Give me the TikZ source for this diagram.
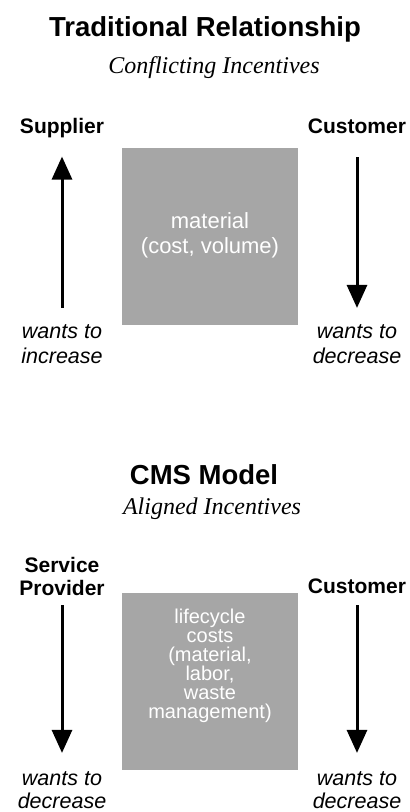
\documentclass[tikz,border=0pt]{standalone}
\usepackage{fontspec}
\setmainfont{Liberation Serif}
\setsansfont{Liberation Sans}
\usepackage{xcolor}
\usetikzlibrary{arrows.meta}
\definecolor{boxgray}{RGB}{166,166,166}

\begin{document}
\begin{tikzpicture}[x=1pt,y=-1pt,
	title/.style={font=\sffamily\bfseries\fontsize{27.5}{30}\selectfont,anchor=base,inner sep=0pt},
	subtitle/.style={font=\itshape\fontsize{24}{26}\selectfont,anchor=base,inner sep=0pt},
	party/.style={font=\sffamily\bfseries\fontsize{21}{23}\selectfont,align=center,anchor=base,inner sep=0pt},
	wants/.style={font=\sffamily\itshape\fontsize{21.5}{25}\selectfont,align=center,anchor=base,inner sep=0pt},
	costbox/.style={fill=boxgray,minimum width=176pt,minimum height=177pt,inner sep=0pt},
	costtext/.style={text=white,font=\sffamily\fontsize{22}{25}\selectfont,align=center,anchor=base,inner sep=0pt},
	push/.style={line width=3pt,-{Triangle[width=20pt,length=23pt]}}]
\useasboundingbox (0,0) rectangle (410,812);

% traditional relationship
\node[title] (tradTitle) at (205,36) {Traditional Relationship};
\node[subtitle] (tradSub) at (214,73) {Conflicting Incentives};
\node[party] (sup) at (62,133) {Supplier};
\node[party] (custA) at (357,133) {Customer};
\node[costbox] (matBox) at (210,236.5) {};
\node[costtext] (matText) at (210,253) {material\\(cost, volume)};
\node[wants] (incL) at (62,363) {wants to\\increase};
\node[wants] (decA) at (357,363) {wants to\\decrease};
\draw[push,shorten <=16pt,shorten >=19pt] (incL.north) -- (sup.south);
\draw[push,shorten <=24pt,shorten >=16pt] (custA.south) -- (decA.north);

% CMS model
\node[title] (cmsTitle) at (204,484) {CMS Model};
\node[subtitle] (cmsSub) at (212,514) {Aligned Incentives};
\node[party] (prov) at (62,595) {Service\\Provider};
\node[party] (custB) at (357,593) {Customer};
\node[costbox] (lcBox) at (210,681.5) {};
\node[costtext,font=\sffamily\fontsize{20}{19}\selectfont] (lcText) at (210,718)
	{lifecycle\\costs\\(material,\\labor,\\waste\\management)};
\node[wants,font=\sffamily\itshape\fontsize{21.5}{23}\selectfont] (decL) at (62,808) {wants to\\decrease};
\node[wants,font=\sffamily\itshape\fontsize{21.5}{23}\selectfont] (decB) at (357,808) {wants to\\decrease};
\draw[push,shorten <=10pt,shorten >=18pt] (prov.south) -- (decL.north);
\draw[push,shorten <=12pt,shorten >=18pt] (custB.south) -- (decB.north);
\end{tikzpicture}
\end{document}
